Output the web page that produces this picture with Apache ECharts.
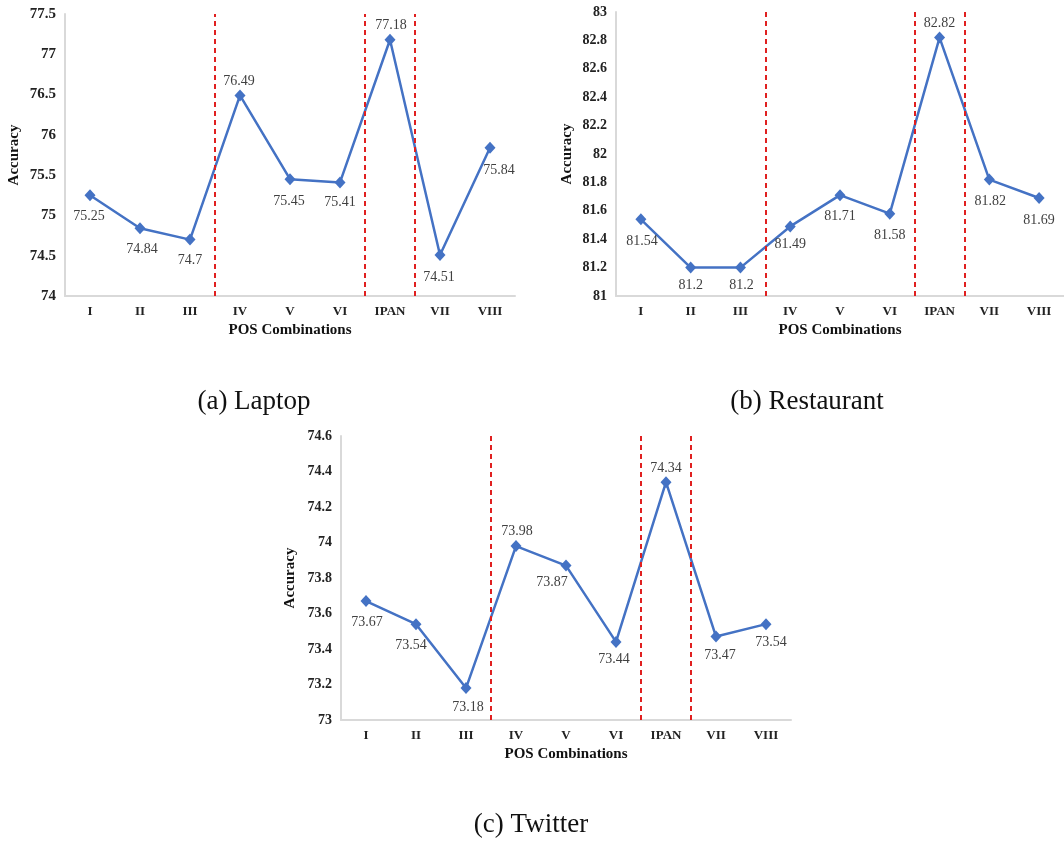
<!DOCTYPE html>
<html>
<head>
<meta charset="utf-8">
<script src="https://cdn.jsdelivr.net/npm/echarts@6/dist/echarts.min.js"></script>
<style>
  html, body { margin: 0; padding: 0; background: #fff; }
  #chart { width: 1064px; height: 842px; }
</style>
</head>
<body>
<div id="chart"></div>
<script>
// POS combination accuracy, three datasets
const categories = ['I', 'II', 'III', 'IV', 'V', 'VI', 'IPAN', 'VII', 'VIII'];
const laptopAcc = [75.25, 74.84, 74.7, 76.49, 75.45, 75.41, 77.18, 74.51, 75.84];
const restaurantAcc = [81.54, 81.2, 81.2, 81.49, 81.71, 81.58, 82.82, 81.82, 81.69];
const twitterAcc = [73.67, 73.54, 73.18, 73.98, 73.87, 73.44, 74.34, 73.47, 73.54];
// red dashed separators, in category units (between items)
const dividers = [2.5, 5.5, 6.5];
// y axis ranges [min, max, step]
const laptopTicks = [74, 77.5, 0.5];
const restaurantTicks = [81, 83, 0.2];
const twitterTicks = [73, 74.6, 0.2];

const SERIF = '"Liberation Serif", "Times New Roman", serif';
const BLUE = '#4472C4';

// label placement around each marker [dx, dy]
const laptopLabelShift = [[-1, 21], [2, 21], [0, 21], [-1, -14], [-1, 22], [0, 20], [1, -14], [-1, 22], [9, 23]];
const restaurantLabelShift = [[1, 22], [0, 18], [1, 18], [0, 18], [0, 21], [0, 22], [0, -14], [1, 22], [0, 22]];
const twitterLabelShift = [[1, 21], [-5, 21], [2, 19], [1, -15], [-14, 17], [-2, 17], [0, -14], [4, 19], [5, 18]];

const panels = [
  { grid: { left: 65, top: 14, width: 450, height: 282 }, values: laptopAcc, ticks: laptopTicks, shift: laptopLabelShift, yFont: 15, nameGap: 43, caption: '(a) Laptop', capX: 254, capY: 388 },
  { grid: { left: 616, top: 12, width: 448, height: 284 }, values: restaurantAcc, ticks: restaurantTicks, shift: restaurantLabelShift, yFont: 14, nameGap: 41, caption: '(b) Restaurant', capX: 807, capY: 388 },
  { grid: { left: 341, top: 436, width: 450, height: 284 }, values: twitterAcc, ticks: twitterTicks, shift: twitterLabelShift, yFont: 14, nameGap: 43, caption: '(c) Twitter', capX: 531, capY: 811 }
];

const grid = [], xAxis = [], yAxis = [], series = [], title = [];

panels.forEach((p, i) => {
  grid.push(p.grid);

  // visible category axis
  xAxis.push({
    type: 'category',
    gridIndex: i,
    data: categories,
    boundaryGap: true,
    name: 'POS Combinations',
    nameLocation: 'middle',
    nameGap: 27,
    nameTextStyle: { fontFamily: SERIF, fontWeight: 'bold', fontSize: 15, color: '#111' },
    axisLine: { onZero: false, lineStyle: { color: '#d9d9d9', width: 2 } },
    axisTick: { show: false },
    axisLabel: { fontFamily: SERIF, fontWeight: 'bold', fontSize: 13, color: '#222', margin: 9 },
    splitLine: { show: false }
  });
  // hidden value axis for the separators
  xAxis.push({
    type: 'value',
    gridIndex: i,
    min: -0.5,
    max: categories.length - 0.5,
    show: false
  });

  yAxis.push({
    type: 'value',
    gridIndex: i,
    min: p.ticks[0],
    max: p.ticks[1],
    interval: p.ticks[2],
    name: 'Accuracy',
    nameLocation: 'middle',
    nameGap: p.nameGap,
    nameTextStyle: { fontFamily: SERIF, fontWeight: 'bold', fontSize: 15, color: '#111' },
    axisLine: { show: true, onZero: false, lineStyle: { color: '#d9d9d9', width: 2 } },
    axisTick: { show: false },
    splitLine: { show: false },
    axisLabel: {
      fontFamily: SERIF, fontWeight: 'bold', fontSize: p.yFont, color: '#222', margin: 9,
      formatter: v => String(+v.toFixed(2))
    }
  });

  series.push({
    type: 'line',
    xAxisIndex: i * 2,
    yAxisIndex: i,
    symbol: 'diamond',
    symbolSize: [11, 12],
    lineStyle: { color: BLUE, width: 2.5 },
    itemStyle: { color: BLUE },
    label: {
      show: true,
      position: 'inside',
      fontFamily: SERIF,
      fontSize: 14,
      color: '#404040'
    },
    data: p.values.map((v, k) => ({
      value: v,
      label: { offset: p.shift[k] }
    })),
    z: 3
  });

  series.push({
    type: 'line',
    xAxisIndex: i * 2 + 1,
    yAxisIndex: i,
    data: [],
    silent: true,
    markLine: {
      silent: true,
      symbol: 'none',
      label: { show: false },
      lineStyle: { color: '#e02020', width: 2, type: [5, 4] },
      data: dividers.map(d => ({ xAxis: d }))
    },
    z: 2
  });

  title.push({
    text: p.caption,
    left: p.capX,
    top: p.capY,
    textAlign: 'center',
    padding: 0,
    textStyle: { fontFamily: SERIF, fontWeight: 'normal', fontSize: 27, color: '#111' }
  });
});

const chart = echarts.init(document.getElementById('chart'));
chart.setOption({
  backgroundColor: '#fff',
  animation: false,
  title,
  grid,
  xAxis,
  yAxis,
  series
});
</script>
</body>
</html>
